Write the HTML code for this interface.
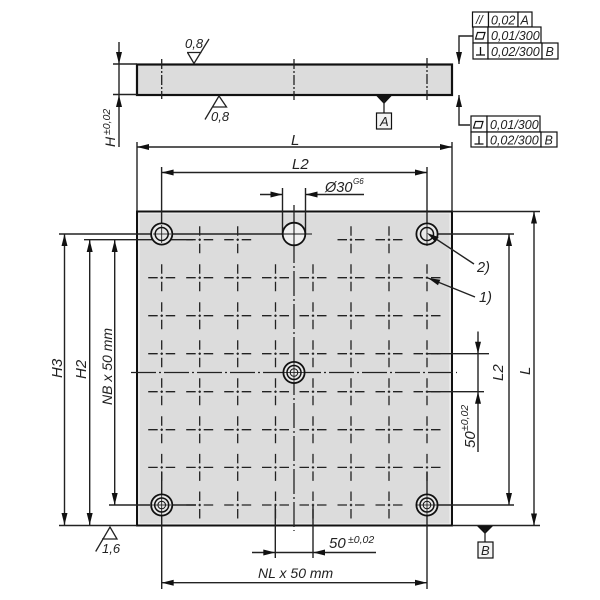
<!DOCTYPE html>
<html><head><meta charset="utf-8"><style>
html,body{margin:0;padding:0;background:#fff}
svg{display:block;filter:blur(.3px)}
text{font-family:"Liberation Sans",sans-serif;font-style:italic;fill:#222}
</style></head><body>
<svg width="600" height="600" viewBox="0 0 600 600" xmlns="http://www.w3.org/2000/svg">
<defs>
<g id="c" stroke="#222" stroke-width="1.3" fill="none">
<path d="M-13.500 0H-4M-1.200 0H1.200M4 0H13.500M0 -13.500V-4M0 -1.200V1.200M0 4V13.500"/>
</g>
<path id="ar" d="M0 0L-12 -3L-12 3Z" fill="#111" stroke="none"/>
</defs>
<!-- side view -->
<rect x="137" y="64.5" width="315" height="30.5" fill="#dcdcdc" stroke="#111" stroke-width="2.2"/>
<path d="M161.700 59V99M294 59V100M427 58V100" stroke="#222" stroke-width="1.300" stroke-dasharray="10 2 2 2" fill="none"/>
<!-- plate -->
<rect x="137" y="211.500" width="315" height="314" fill="#dcdcdc" stroke="#111" stroke-width="2"/>
<rect x="139" y="213" width="311" height="311" fill="none" stroke="#f2f2f2" stroke-width="1"/>
<!-- crosses -->
<use href="#c" x="199.700" y="239.700"/><use href="#c" x="237.700" y="239.700"/><use href="#c" x="351" y="239.700"/><use href="#c" x="389" y="239.700"/>
<use href="#c" x="161.700" y="277.700"/><use href="#c" x="199.700" y="277.700"/><use href="#c" x="237.700" y="277.700"/><use href="#c" x="275.500" y="277.700"/><use href="#c" x="313" y="277.700"/><use href="#c" x="351" y="277.700"/><use href="#c" x="389" y="277.700"/><use href="#c" x="427" y="277.700"/>
<use href="#c" x="161.700" y="315.700"/><use href="#c" x="199.700" y="315.700"/><use href="#c" x="237.700" y="315.700"/><use href="#c" x="275.500" y="315.700"/><use href="#c" x="313" y="315.700"/><use href="#c" x="351" y="315.700"/><use href="#c" x="389" y="315.700"/><use href="#c" x="427" y="315.700"/>
<use href="#c" x="161.700" y="353.700"/><use href="#c" x="199.700" y="353.700"/><use href="#c" x="237.700" y="353.700"/><use href="#c" x="275.500" y="353.700"/><use href="#c" x="313" y="353.700"/><use href="#c" x="351" y="353.700"/><use href="#c" x="389" y="353.700"/><use href="#c" x="427" y="353.700"/>
<use href="#c" x="161.700" y="391.700"/><use href="#c" x="199.700" y="391.700"/><use href="#c" x="237.700" y="391.700"/><use href="#c" x="275.500" y="391.700"/><use href="#c" x="313" y="391.700"/><use href="#c" x="351" y="391.700"/><use href="#c" x="389" y="391.700"/><use href="#c" x="427" y="391.700"/>
<use href="#c" x="161.700" y="429.700"/><use href="#c" x="199.700" y="429.700"/><use href="#c" x="237.700" y="429.700"/><use href="#c" x="275.500" y="429.700"/><use href="#c" x="313" y="429.700"/><use href="#c" x="351" y="429.700"/><use href="#c" x="389" y="429.700"/><use href="#c" x="427" y="429.700"/>
<use href="#c" x="161.700" y="467.400"/><use href="#c" x="199.700" y="467.400"/><use href="#c" x="237.700" y="467.400"/><use href="#c" x="275.500" y="467.400"/><use href="#c" x="313" y="467.400"/><use href="#c" x="351" y="467.400"/><use href="#c" x="389" y="467.400"/><use href="#c" x="427" y="467.400"/>
<use href="#c" x="199.700" y="505"/><use href="#c" x="237.700" y="505"/><use href="#c" x="275.500" y="505"/><use href="#c" x="313" y="505"/><use href="#c" x="351" y="505"/><use href="#c" x="389" y="505"/>
<!-- center lines -->
<path d="M294 205V531M131 372.500H457" stroke="#222" stroke-width="1.300" stroke-dasharray="25 3 2 3" fill="none"/>
<!-- dimension lines -->
<g stroke="#222" stroke-width="1.400" fill="none">
<path d="M113 64H137M113 94.500H137M119 42V147"/>
<path d="M137 142V211M452 142V211M137 147H452"/>
<path d="M161.600 167V223M427 167V223M161.600 172.500H427"/>
<path d="M260 194.500H282.500M305.500 194.500H364M282.500 188V234M305.500 188V234"/>
<path d="M59 234H283M84 239.700H193M109 505H150M59 525.500H137"/>
<path d="M64.500 234V525M89.700 240V525M114.700 240V505"/>
<path d="M452 211.500H540M452 525.500H540M534 211.500V525.500"/>
<path d="M438 234H514M438 505H514M509 234V505"/>
<path d="M427 353.700H489M427 391.700H484M478 331.500V452"/>
<path d="M161.700 516V589M427 516V589M161.700 582.700H427"/>
<path d="M161.700 472V494M427 472V494"/>
<path d="M275.300 505V558M313 505V558M252 552.500H376"/>
<path d="M427 233L474 264M428 278L475 297"/>
<path d="M473 36H459V64M470 125H459V95"/>
<path d="M173 505H196"/>
</g>
<!-- holes -->
<g stroke="#111" fill="none">
<g><circle cx="161.700" cy="234" r="10.600" stroke-width="1.800" fill="#e8e8e8"/><circle cx="161.700" cy="234" r="6.500" stroke-width="1.500"/><path d="M161.700 225V243M153 234H171" stroke-width=".8"/></g>
<g><circle cx="427" cy="234" r="10.600" stroke-width="1.800" fill="#e8e8e8"/><circle cx="427" cy="234" r="6.500" stroke-width="1.500"/><path d="M427 223V246" stroke-width=".8"/></g>
<g><circle cx="161.700" cy="505" r="10.600" stroke-width="1.800" fill="#e8e8e8"/><circle cx="161.700" cy="505" r="7" stroke-width="1.500"/><circle cx="161.700" cy="505" r="3.800" stroke-width="1"/><path d="M161.700 494V516M152 505H171" stroke-width=".8"/></g>
<g><circle cx="427" cy="505" r="10.600" stroke-width="1.800" fill="#e8e8e8"/><circle cx="427" cy="505" r="7" stroke-width="1.500"/><circle cx="427" cy="505" r="3.800" stroke-width="1"/><path d="M427 494V516M416 505H437" stroke-width=".8"/></g>
<g><circle cx="294" cy="372.500" r="10.600" stroke-width="1.800" fill="#e8e8e8"/><circle cx="294" cy="372.500" r="7" stroke-width="1.500"/><circle cx="294" cy="372.500" r="3.800" stroke-width="1"/><path d="M294 362V383M284 372.500H305" stroke-width=".8"/></g>
<g><circle cx="294" cy="234" r="11.300" stroke-width="1.800" fill="#f0f0f0"/><path d="M294 222V246M282 234H312" stroke-width="1"/></g>
</g>
<!-- arrowheads -->
<use href="#ar" transform="translate(119 64) rotate(90)"/>
<use href="#ar" transform="translate(119 95) rotate(-90)"/>
<use href="#ar" transform="translate(137 147) rotate(180)"/>
<use href="#ar" transform="translate(452 147)"/>
<use href="#ar" transform="translate(161.600 172.500) rotate(180)"/>
<use href="#ar" transform="translate(427 172.500)"/>
<use href="#ar" transform="translate(282.500 194.500)"/>
<use href="#ar" transform="translate(305.500 194.500) rotate(180)"/>
<use href="#ar" transform="translate(64.500 234) rotate(-90)"/>
<use href="#ar" transform="translate(64.500 525) rotate(90)"/>
<use href="#ar" transform="translate(89.700 240) rotate(-90)"/>
<use href="#ar" transform="translate(89.700 525) rotate(90)"/>
<use href="#ar" transform="translate(114.700 240) rotate(-90)"/>
<use href="#ar" transform="translate(114.700 505) rotate(90)"/>
<use href="#ar" transform="translate(534 211.500) rotate(-90)"/>
<use href="#ar" transform="translate(534 525.500) rotate(90)"/>
<use href="#ar" transform="translate(509 234) rotate(-90)"/>
<use href="#ar" transform="translate(509 505) rotate(90)"/>
<use href="#ar" transform="translate(478 353.700) rotate(90)"/>
<use href="#ar" transform="translate(478 391.700) rotate(-90)"/>
<use href="#ar" transform="translate(161.700 582.700) rotate(180)"/>
<use href="#ar" transform="translate(427 582.700)"/>
<use href="#ar" transform="translate(275.300 552.500)"/>
<use href="#ar" transform="translate(313 552.500) rotate(180)"/>
<use href="#ar" transform="translate(427 233) rotate(213.400)"/>
<use href="#ar" transform="translate(428 278) rotate(202)"/>
<use href="#ar" transform="translate(459 64) rotate(90)"/>
<use href="#ar" transform="translate(459 95) rotate(-90)"/>
<!-- surface symbols -->
<g stroke="#222" stroke-width="1.300" fill="none">
<path d="M187 52.500H201.500M187.500 52.500L194 63.500L209 39"/>
<path d="M212 107H226.500L219 96L205 119.500"/>
<path d="M102 539H117L110 527L95.700 551.500"/>
</g>
<!-- datums -->
<path d="M376 95.500H392L384 104Z M477 526H493L485 534Z" fill="#111"/>
<path d="M384 100V113M485 530V542" stroke="#222" stroke-width="1.300"/>
<rect x="376.500" y="113" width="15" height="16" fill="#f4f4f4" stroke="#111" stroke-width="1.200"/>
<rect x="478" y="542" width="15" height="16" fill="#f4f4f4" stroke="#111" stroke-width="1.200"/>
<!-- FCF -->
<g fill="#fff" stroke="#111" stroke-width="1.200">
<rect x="472.500" y="12" width="16" height="15"/><rect x="488.500" y="12" width="29.500" height="15"/><rect x="518" y="12" width="14" height="15"/>
<rect x="473" y="27" width="15" height="16"/><rect x="488" y="27" width="53" height="16"/>
<rect x="473" y="43" width="15" height="16"/><rect x="488" y="43" width="54" height="16"/><rect x="542" y="43" width="16" height="16"/>
<rect x="471" y="116" width="16" height="16"/><rect x="487" y="116" width="53" height="16"/>
<rect x="471" y="132" width="16" height="15"/><rect x="487" y="132" width="54" height="15"/><rect x="541" y="132" width="16" height="15"/>
<path d="M475.500 39L477.500 32.500H485L483 39Z" fill="none"/><path d="M473.500 128L475.500 121.500H483L481 128Z" fill="none"/>
<path d="M480.500 47V55M476 55H485M479 136V144M474.500 144H483.500" fill="none" stroke-width="1.300"/>
</g>
<!-- text -->
<g font-size="13">
<text x="185" y="48">0,8</text>
<text x="211" y="121">0,8</text>
<text x="102" y="553">1,6</text>
<text x="291" y="145" font-size="15">L</text>
<text x="292" y="169" font-size="15">L2</text>
<text x="325" y="192" font-size="14.500">Ø30</text>
<text x="353" y="184" font-size="8">G6</text>
<text x="477" y="272" font-size="14.500">2)</text>
<text x="479" y="302" font-size="14.500">1)</text>
<text x="329" y="548" font-size="15">50</text>
<text x="348" y="543" font-size="10.500">±0,02</text>
<text x="258" y="578" font-size="14">NL x 50 mm</text>
<text transform="translate(62 378) rotate(-90)" font-size="15">H3</text>
<text transform="translate(86 379) rotate(-90)" font-size="15">H2</text>
<text transform="translate(112 405) rotate(-90)" font-size="14">NB x 50 mm</text>
<text transform="translate(503 381) rotate(-90)" font-size="15">L2</text>
<text transform="translate(530 375) rotate(-90)" font-size="15">L</text>
<text transform="translate(475 448) rotate(-90)" font-size="15">50</text>
<text transform="translate(468 431) rotate(-90)" font-size="10.500">±0,02</text>
<text transform="translate(115 147) rotate(-90)" font-size="14">H</text>
<text transform="translate(110 135) rotate(-90)" font-size="10.500">±0,02</text>
<text x="380" y="126" font-size="13">A</text>
<text x="481" y="555" font-size="13">B</text>
<text x="476" y="24" font-size="12">//</text>
<text x="491" y="24.500" font-size="12.500">0,02</text>
<text x="520.500" y="24.500" font-size="12.500">A</text>
<text x="491" y="40" font-size="12.500">0,01/300</text>
<text x="491" y="56" font-size="12.500">0,02/300</text>
<text x="545.500" y="56" font-size="12.500">B</text>
<text x="490" y="129" font-size="12.500">0,01/300</text>
<text x="490" y="144.500" font-size="12.500">0,02/300</text>
<text x="544.500" y="144.500" font-size="12.500">B</text>
</g>
</svg>
</body></html>
